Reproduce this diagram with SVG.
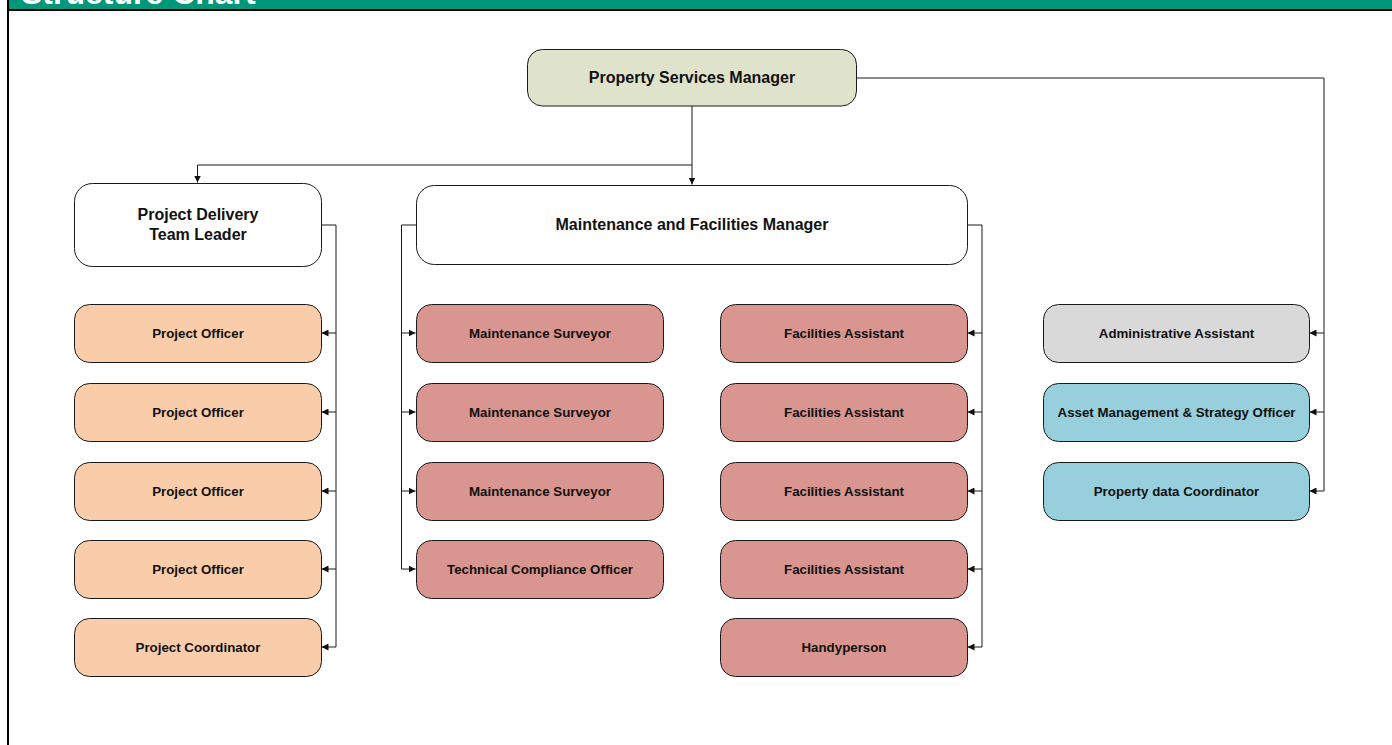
<svg xmlns="http://www.w3.org/2000/svg" width="1392" height="745" viewBox="0 0 1392 745">
<style>
.n rect{stroke:#1a1a1a;stroke-width:1}
.n text{font-family:"Liberation Sans",Arial,sans-serif;font-weight:bold;fill:#111;text-anchor:middle}
.big{font-size:16px}
.sm{font-size:13.3px}
.psm{fill:#dfe3cc}
.wh{fill:#ffffff}
.pe{fill:#f9cdaa}
.rd{fill:#d9958f}
.gr{fill:#d9d9d9}
.bl{fill:#98cfdd}
#conn path{fill:none;stroke:#1a1a1a;stroke-width:1}
</style>
<defs>
<marker id="ah" viewBox="0 0 10 10" refX="10" refY="5" markerWidth="7" markerHeight="7" markerUnits="userSpaceOnUse" orient="auto">
<path d="M0,0 L10,5 L0,10 z" fill="#111"/>
</marker>
</defs>
<rect width="1392" height="745" fill="#ffffff"/>
<g id="header">
<rect x="8" y="0" width="1384" height="9.5" fill="#00967a"/>
<text x="21" y="4" font-family="'Liberation Sans',Arial,sans-serif" font-weight="bold" font-size="32" fill="#ffffff">Structure Chart</text>
<rect x="7" y="9" width="1385" height="2" fill="#000"/>
<rect x="7" y="0" width="2" height="745" fill="#000"/>
</g>
<g id="conn">
<path d="M692,106 V165 H197.5 V182.5" marker-end="url(#ah)"/>
<path d="M692,165 V184.5" marker-end="url(#ah)"/>
<path d="M857,78 H1324 V491"/>
<path d="M1324,333 H1309.5" marker-end="url(#ah)"/>
<path d="M1324,412 H1309.5" marker-end="url(#ah)"/>
<path d="M1324,491 H1309.5" marker-end="url(#ah)"/>
<path d="M321,225 H336 V647"/>
<path d="M336,333 H321.5" marker-end="url(#ah)"/>
<path d="M336,412 H321.5" marker-end="url(#ah)"/>
<path d="M336,491 H321.5" marker-end="url(#ah)"/>
<path d="M336,569 H321.5" marker-end="url(#ah)"/>
<path d="M336,647 H321.5" marker-end="url(#ah)"/>
<path d="M416,225 H401.5 V569"/>
<path d="M401.5,333 H415.5" marker-end="url(#ah)"/>
<path d="M401.5,412 H415.5" marker-end="url(#ah)"/>
<path d="M401.5,491 H415.5" marker-end="url(#ah)"/>
<path d="M401.5,569 H415.5" marker-end="url(#ah)"/>
<path d="M967,225 H982 V647"/>
<path d="M982,333 H967.5" marker-end="url(#ah)"/>
<path d="M982,412 H967.5" marker-end="url(#ah)"/>
<path d="M982,491 H967.5" marker-end="url(#ah)"/>
<path d="M982,569 H967.5" marker-end="url(#ah)"/>
<path d="M982,647 H967.5" marker-end="url(#ah)"/>
</g>
<g id="psm" class="n"><rect class="psm" x="527.5" y="49.5" width="329" height="56.5" rx="15"/><text class="big" x="692" y="82.5">Property Services Manager</text></g>
<g id="pdtl" class="n"><rect class="wh" x="74.5" y="183.5" width="247" height="83" rx="18"/><text class="big" x="198" y="220">Project Delivery</text><text class="big" x="198" y="240">Team Leader</text></g>
<g id="mfm" class="n"><rect class="wh" x="416.5" y="185.5" width="551" height="79" rx="18"/><text class="big" x="692" y="230">Maintenance and Facilities Manager</text></g>
<g id="po1" class="n"><rect class="pe" x="74.5" y="304.5" width="247" height="58" rx="15"/><text class="sm" x="198" y="338">Project Officer</text></g>
<g id="po2" class="n"><rect class="pe" x="74.5" y="383.5" width="247" height="58" rx="15"/><text class="sm" x="198" y="417">Project Officer</text></g>
<g id="po3" class="n"><rect class="pe" x="74.5" y="462.5" width="247" height="58" rx="15"/><text class="sm" x="198" y="496">Project Officer</text></g>
<g id="po4" class="n"><rect class="pe" x="74.5" y="540.5" width="247" height="58" rx="15"/><text class="sm" x="198" y="574">Project Officer</text></g>
<g id="pc" class="n"><rect class="pe" x="74.5" y="618.5" width="247" height="58" rx="15"/><text class="sm" x="198" y="652">Project Coordinator</text></g>
<g id="ms1" class="n"><rect class="rd" x="416.5" y="304.5" width="247" height="58" rx="15"/><text class="sm" x="540" y="338">Maintenance Surveyor</text></g>
<g id="ms2" class="n"><rect class="rd" x="416.5" y="383.5" width="247" height="58" rx="15"/><text class="sm" x="540" y="417">Maintenance Surveyor</text></g>
<g id="ms3" class="n"><rect class="rd" x="416.5" y="462.5" width="247" height="58" rx="15"/><text class="sm" x="540" y="496">Maintenance Surveyor</text></g>
<g id="tco" class="n"><rect class="rd" x="416.5" y="540.5" width="247" height="58" rx="15"/><text class="sm" x="540" y="574">Technical Compliance Officer</text></g>
<g id="fa1" class="n"><rect class="rd" x="720.5" y="304.5" width="247" height="58" rx="15"/><text class="sm" x="844" y="338">Facilities Assistant</text></g>
<g id="fa2" class="n"><rect class="rd" x="720.5" y="383.5" width="247" height="58" rx="15"/><text class="sm" x="844" y="417">Facilities Assistant</text></g>
<g id="fa3" class="n"><rect class="rd" x="720.5" y="462.5" width="247" height="58" rx="15"/><text class="sm" x="844" y="496">Facilities Assistant</text></g>
<g id="fa4" class="n"><rect class="rd" x="720.5" y="540.5" width="247" height="58" rx="15"/><text class="sm" x="844" y="574">Facilities Assistant</text></g>
<g id="hp" class="n"><rect class="rd" x="720.5" y="618.5" width="247" height="58" rx="15"/><text class="sm" x="844" y="652">Handyperson</text></g>
<g id="aa" class="n"><rect class="gr" x="1043.5" y="304.5" width="266" height="58" rx="15"/><text class="sm" x="1176.5" y="338">Administrative Assistant</text></g>
<g id="amso" class="n"><rect class="bl" x="1043.5" y="383.5" width="266" height="58" rx="15"/><text class="sm" x="1176.5" y="417">Asset Management &amp; Strategy Officer</text></g>
<g id="pdc" class="n"><rect class="bl" x="1043.5" y="462.5" width="266" height="58" rx="15"/><text class="sm" x="1176.5" y="496">Property data Coordinator</text></g>
</svg>
